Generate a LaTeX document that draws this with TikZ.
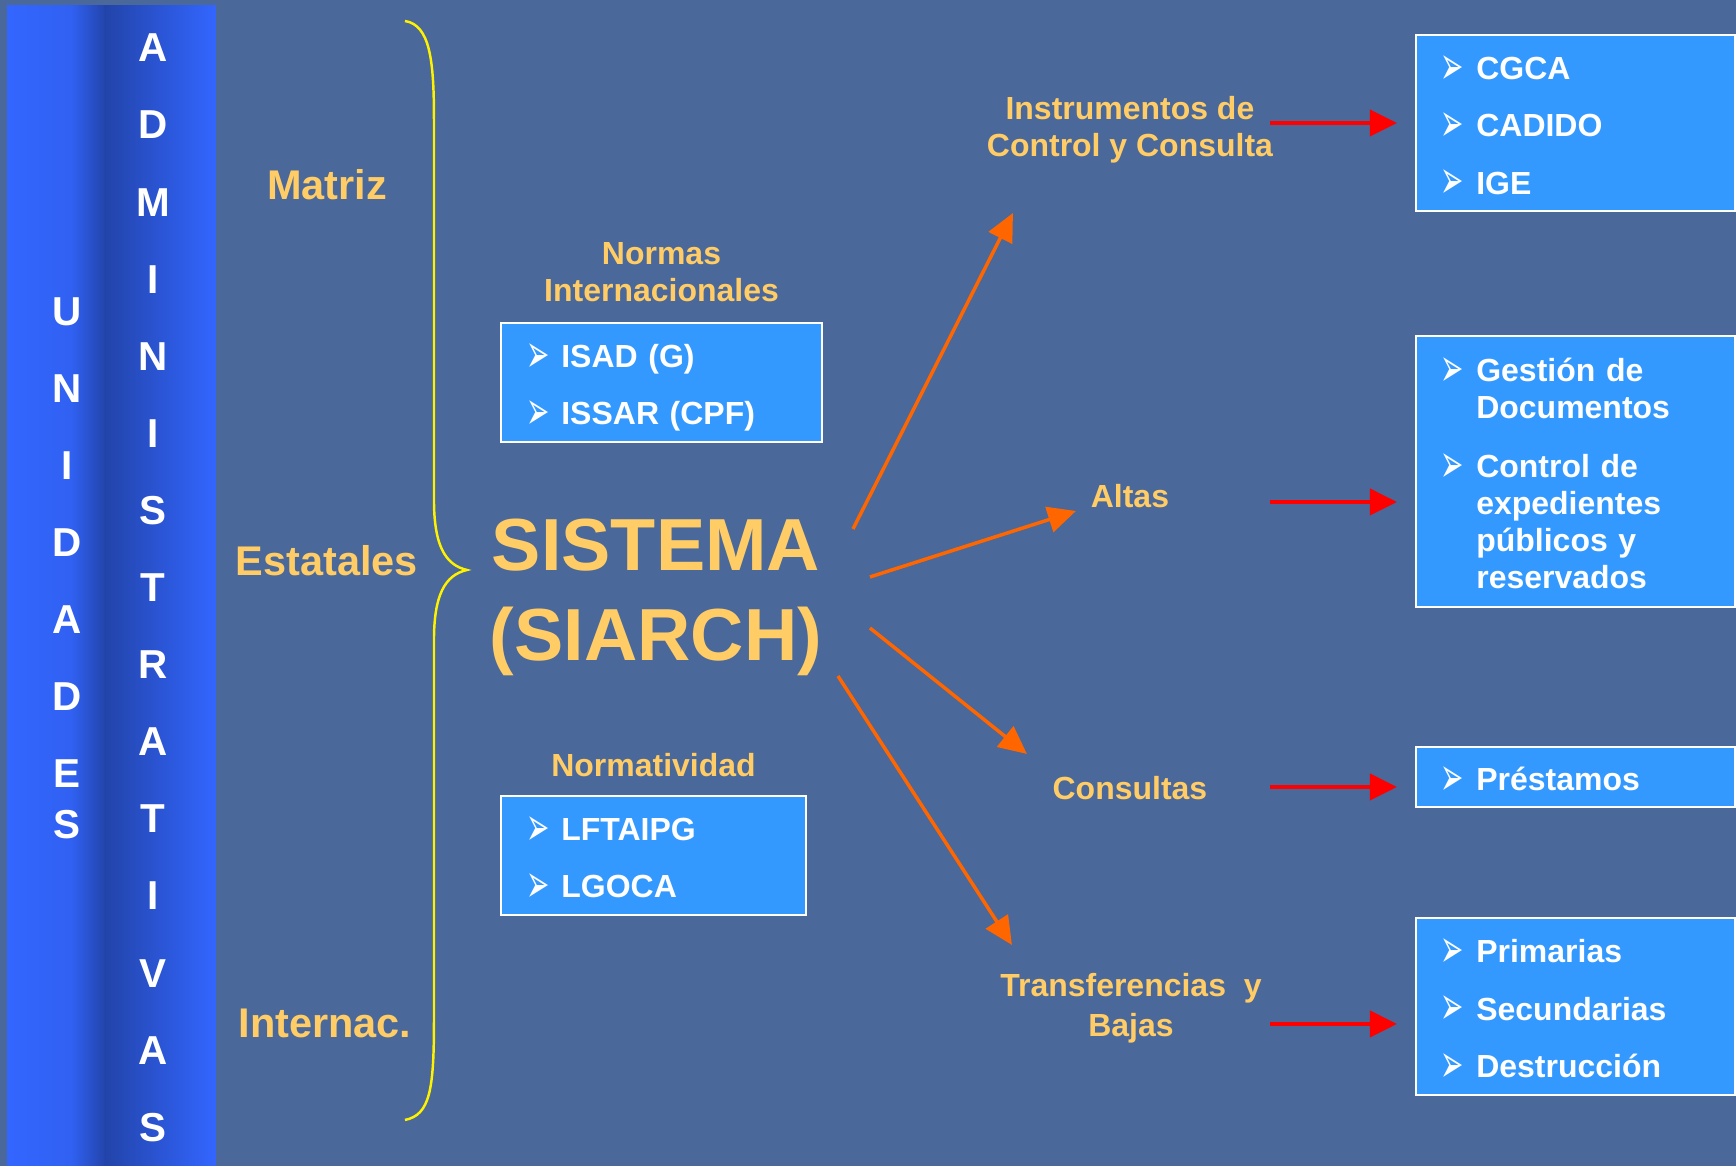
\documentclass[tikz,border=0pt]{standalone}
\usepackage{fontspec}
\setmainfont{Liberation Sans}
\newfontfamily\simbolos{DejaVu Sans}
\usetikzlibrary{arrows.meta,positioning}

\definecolor{fondo}{HTML}{4A6899}
\definecolor{cajaazul}{HTML}{3399FF}
\definecolor{dorado}{HTML}{FFCC66}
\definecolor{naranja}{HTML}{FF6600}
\definecolor{barraclara}{HTML}{3366FF}
\definecolor{barraoscura}{HTML}{2244AA}

\newcommand{\flechita}{\raisebox{-1.3pt}{\scalebox{0.72}[1.4]{\simbolos\fontsize{11}{11}\selectfont ➢}}}
\newcommand{\listado}[1]{\raisebox{-1.8pt}[\height][\depth]{%
    \begin{tabular}{@{}l@{\hspace{0.12cm}}l@{}}#1\end{tabular}}}

\begin{document}
\begin{tikzpicture}[
    letra/.style={text=white, inner sep=0pt, font=\fontsize{11.5}{11.5}\selectfont\bfseries},
    nivel/.style={text=dorado, font=\fontsize{11.8}{14}\selectfont\bfseries},
    etiqueta/.style={text=dorado, align=center, font=\fontsize{9.1}{10.6}\selectfont\bfseries},
    lista/.style={draw=white, line width=0.6pt, fill=cajaazul, text=white, anchor=north west,
        inner xsep=0.25cm, inner ysep=0pt, font=\fontsize{9.1}{10.5}\selectfont\bfseries},
    rama/.style={naranja, line width=1pt, -{Triangle[length=0.28cm, width=0.26cm]}},
    salida/.style={red, line width=1.1pt, -{Triangle[length=0.27cm, width=0.26cm]}, shorten >=0.18cm}
]

        % Fondo y barra lateral
        \fill[fondo] (0,0) rectangle (17.36,-11.66);
        \shade[left color=barraclara, right color=barraclara!85!barraoscura] (0.07,-0.05) rectangle (0.72,-11.66);
        \shade[left color=barraclara!85!barraoscura, right color=barraoscura] (0.71,-0.05) rectangle (1.06,-11.66);
        \shade[left color=barraoscura, right color=barraclara] (1.05,-0.05) rectangle (2.16,-11.66);

        % Letras verticales
        \foreach \l/\y [count=\i] in {U/3.12,N/3.89,I/4.66,D/5.43,A/6.20,D/6.97,E/7.74,S/8.25}
            \node[letra] (uni\i) at (0.67,-\y) {\l};
        \foreach \l [count=\i from 0] in {A,D,M,I,N,I,S,T,R,A,T,I,V,A,S}
            \node[letra] (adm\i) at (1.53,{-0.48-0.771*\i}) {\l};

        % Niveles y llave
        \node[nivel] (matriz) at (3.27,-1.85) {Matriz};
        \node[nivel] (estatales) at (3.27,-5.61) {Estatales};
        \node[nivel] (internac) at (3.25,-10.23) {Internac.};
        \draw[yellow, line width=0.7pt] (4.05,-0.21) .. controls (4.30,-0.25) and (4.34,-0.60) .. (4.34,-1.20)
            -- (4.34,-5.00) .. controls (4.34,-5.45) and (4.45,-5.65) .. (4.67,-5.70)
            .. controls (4.45,-5.75) and (4.34,-5.95) .. (4.34,-6.40)
            -- (4.34,-10.20) .. controls (4.34,-10.90) and (4.30,-11.15) .. (4.05,-11.20);

        % Sistema y normas
        \node[text=dorado, align=center, font=\fontsize{21}{25.6}\selectfont\bfseries] (sistema) at (6.56,-5.97) {SISTEMA\\(SIARCH)};
        \node[lista, text width=2.71cm, minimum height=1.19cm] (isad) at (5.00,-3.22) {%
            \listado{\flechita & ISAD (G)\\[5.8pt]
                     \flechita & ISSAR (CPF)}};
        \node[etiqueta, above=0.08cm of isad] (normas) {Normas\\Internacionales};
        \node[lista, text width=2.55cm, minimum height=1.19cm] (lftaipg) at (5.00,-7.95) {%
            \listado{\flechita & LFTAIPG\\[5.8pt]
                     \flechita & LGOCA}};
        \node[etiqueta, above=0.06cm of lftaipg] (normatividad) {Normatividad};

        % Procesos
        \node[etiqueta] (instrumentos) at (11.30,-1.30) {Instrumentos de\\Control y Consulta};
        \node[etiqueta] (altas) at (11.30,-4.96) {Altas};
        \node[etiqueta] (consultas) at (11.30,-7.88) {Consultas};
        \node[etiqueta, font=\fontsize{9.1}{11.4}\selectfont\bfseries] (transf) at (11.31,-10.08) {Transferencias\ \ y\\Bajas};

        % Cajas de la derecha
        \node[lista, text width=2.69cm, minimum height=1.76cm] (instbox) at (14.15,-0.34) {%
            \listado{\flechita & CGCA\\[5.8pt]
                     \flechita & CADIDO\\[5.8pt]
                     \flechita & IGE}};
        \node[lista, text width=2.69cm, minimum height=2.71cm] (altasbox) at (14.15,-3.35) {%
            \listado{\flechita & Gestión de\\
                               & Documentos\\[6.3pt]
                     \flechita & Control de\\
                               & expedientes\\
                               & públicos y\\
                               & reservados}};
        \node[lista, text width=2.69cm, minimum height=0.60cm] (consbox) at (14.15,-7.46) {%
            \listado{\flechita & Préstamos}};
        \node[lista, text width=2.69cm, minimum height=1.77cm] (transbox) at (14.15,-9.17) {%
            \listado{\flechita & Primarias\\[5.8pt]
                     \flechita & Secundarias\\[5.8pt]
                     \flechita & Destrucción}};

        % Flechas naranjas desde el sistema
        \coordinate (s1) at (8.53,-5.29);  \coordinate (e1) at (10.13,-2.13);
        \coordinate (s2) at (8.70,-5.77);  \coordinate (e2) at (10.76,-5.11);
        \coordinate (s3) at (8.70,-6.28);  \coordinate (e3) at (10.27,-7.54);
        \coordinate (s4) at (8.38,-6.76);  \coordinate (e4) at (10.12,-9.45);
        \draw[rama] (s1) -- (e1);
        \draw[rama] (s2) -- (e2);
        \draw[rama] (s3) -- (e3);
        \draw[rama] (s4) -- (e4);

        % Flechas rojas hacia las cajas
        \coordinate (a1) at (12.70,-1.23);
        \coordinate (a2) at (12.70,-5.02);
        \coordinate (a3) at (12.70,-7.87);
        \coordinate (a4) at (12.70,-10.24);
        \draw[salida] (a1) -- (a1 -| instbox.west);
        \draw[salida] (a2) -- (a2 -| altasbox.west);
        \draw[salida] (a3) -- (a3 -| consbox.west);
        \draw[salida] (a4) -- (a4 -| transbox.west);

\end{tikzpicture}
\end{document}
